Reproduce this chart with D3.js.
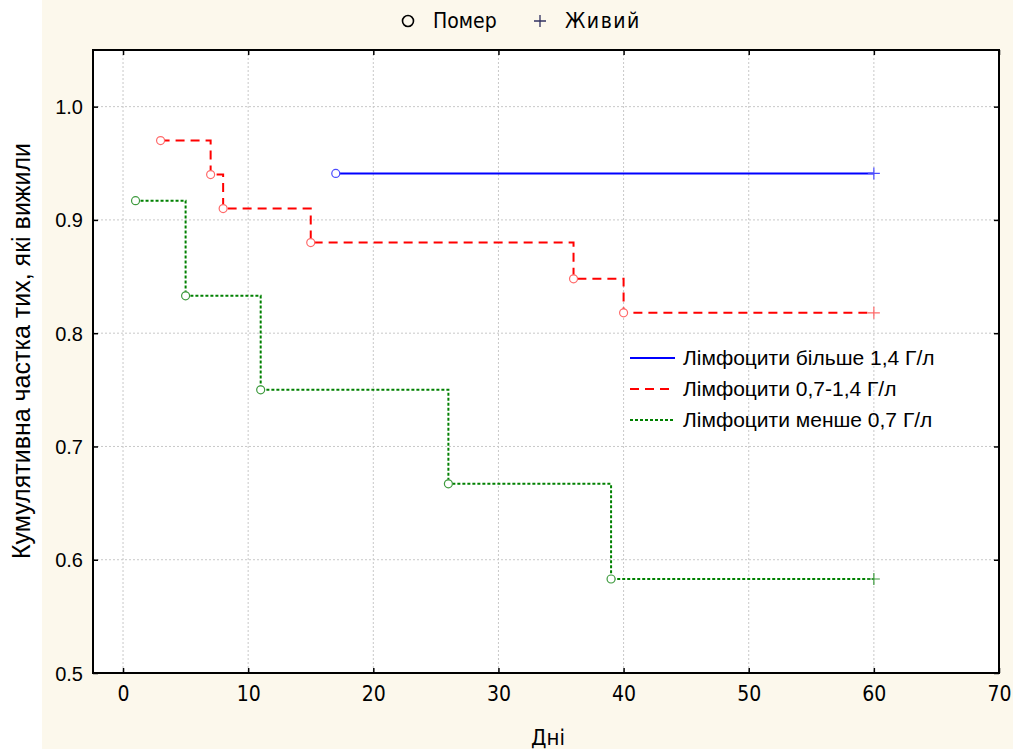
<!DOCTYPE html>
<html>
<head>
<meta charset="utf-8">
<script src="https://cdn.jsdelivr.net/npm/d3@7"></script>
<style>
  body { margin: 0; background: #fff; }
  svg { display: block; font-family: Arial, "Liberation Sans", sans-serif; }
  .narrow { font-family: "Liberation Sans Narrow", "Arial Narrow", "DejaVu Sans Condensed", sans-serif; }
</style>
</head>
<body>
<svg id="chart"></svg>
<script>
// Kaplan-Meier steps: event days and survival after each event
const blueDays = [17];
const blueSurv = [0.941];
const redDays = [3, 7, 8, 15, 36, 40];
const redSurv = [0.970, 0.940, 0.910, 0.880, 0.848, 0.818];
const greenDays = [1, 5, 11, 26, 39];
const greenSurv = [0.917, 0.833, 0.750, 0.667, 0.583];
const censorDay = 60;

const seriesNames = ["Лімфоцити більше 1,4 Г/л", "Лімфоцити 0,7-1,4 Г/л", "Лімфоцити менше 0,7 Г/л"];
const xTicks = [0, 10, 20, 30, 40, 50, 60, 70];
const yTicks = [0.5, 0.6, 0.7, 0.8, 0.9, 1.0];

const width = 1013, height = 749;
const margin = { left: 93, right: 999, top: 50, bottom: 673 };

const svg = d3.select("#chart").attr("width", width).attr("height", height);

// cream background (left strip stays white)
svg.append("rect").attr("x", 42).attr("y", 0).attr("width", width - 42).attr("height", height).attr("fill", "#fcf8ec");

const x = d3.scaleLinear().domain([-2.4, 70]).range([margin.left, margin.right]);
const y = d3.scaleLinear().domain([0.5, 1.05]).range([margin.bottom, margin.top]);

// plot area
svg.append("rect")
    .attr("x", margin.left).attr("y", margin.top)
    .attr("width", margin.right - margin.left).attr("height", margin.bottom - margin.top)
    .attr("fill", "#fff");

// grid
svg.append("g").selectAll("line")
    .data(xTicks.filter(d => d < 70))
    .join("line")
    .attr("x1", d => x(d)).attr("x2", d => x(d))
    .attr("y1", margin.top).attr("y2", margin.bottom)
    .attr("stroke", "#c8c8c8").attr("stroke-dasharray", "2,2");
svg.append("g").selectAll("line")
    .data(yTicks.filter(d => d > 0.5))
    .join("line")
    .attr("x1", margin.left).attr("x2", margin.right)
    .attr("y1", d => y(d)).attr("y2", d => y(d))
    .attr("stroke", "#c8c8c8").attr("stroke-dasharray", "2,2");

// axes with inward ticks
const axisB = svg.append("g").attr("transform", `translate(0,${margin.bottom})`)
    .call(d3.axisBottom(x).tickValues(xTicks).tickSizeInner(-5).tickSizeOuter(0).tickPadding(13));
const axisT = svg.append("g").attr("transform", `translate(0,${margin.top})`)
    .call(d3.axisTop(x).tickValues(xTicks).tickSizeInner(-5).tickSizeOuter(0).tickFormat(""));
const axisL = svg.append("g").attr("transform", `translate(${margin.left},0)`)
    .call(d3.axisLeft(y).tickValues(yTicks).tickSizeInner(-5).tickSizeOuter(0).tickPadding(10).tickFormat(d3.format(".1f")));
const axisR = svg.append("g").attr("transform", `translate(${margin.right},0)`)
    .call(d3.axisRight(y).tickValues(yTicks).tickSizeInner(-5).tickSizeOuter(0).tickFormat(""));
[axisB, axisT, axisL, axisR].forEach(g => {
    g.select(".domain").remove();
    g.selectAll(".tick line").attr("stroke", "#000").attr("stroke-width", 1.5);
    g.selectAll("text").attr("fill", "#000").attr("font-family", null);
});
axisL.selectAll("text").attr("font-size", 20).attr("dy", "0.35em");
axisB.selectAll("text").attr("class", "narrow").attr("font-size", 21);

// frame
svg.append("rect")
    .attr("x", margin.left).attr("y", margin.top)
    .attr("width", margin.right - margin.left).attr("height", margin.bottom - margin.top)
    .attr("fill", "none").attr("stroke", "#000").attr("stroke-width", 2);

// step curves
const series = [
    { days: blueDays, surv: blueSurv, color: "#0000ff", mark: "#4b4bff", dash: null },
    { days: redDays, surv: redSurv, color: "#ff0000", mark: "#ff6a6a", dash: "9,6" },
    { days: greenDays, surv: greenSurv, color: "#008000", mark: "#3d9a3d", dash: "3,2" }
];

const line = d3.line().x(d => x(d[0])).y(d => y(d[1])).curve(d3.curveStepAfter);

series.forEach(s => {
    const pts = s.days.map((d, i) => [d, s.surv[i]]);
    pts.push([censorDay, s.surv[s.surv.length - 1]]);
    svg.append("path")
        .datum(pts)
        .attr("d", line)
        .attr("fill", "none")
        .attr("stroke", s.color)
        .attr("stroke-width", 2)
        .attr("stroke-dasharray", s.dash);
    svg.append("g").selectAll("circle")
        .data(pts.slice(0, -1))
        .join("circle")
        .attr("cx", d => x(d[0])).attr("cy", d => y(d[1]))
        .attr("r", 4)
        .attr("fill", "#fff").attr("stroke", s.mark).attr("stroke-width", 1.2);
    const c = pts[pts.length - 1];
    svg.append("path")
        .attr("d", `M${x(c[0]) - 6},${y(c[1])}H${x(c[0]) + 6}M${x(c[0])},${y(c[1]) - 6}V${y(c[1]) + 6}`)
        .attr("stroke", s.mark).attr("stroke-width", 1.2);
});

// inner legend
const leg = svg.append("g").attr("transform", "translate(630,358)");
series.forEach((s, i) => {
    const g = leg.append("g").attr("transform", `translate(0,${i * 31})`);
    g.append("line").attr("x1", 0).attr("x2", 45).attr("y1", 0).attr("y2", 0)
        .attr("stroke", s.color).attr("stroke-width", 2).attr("stroke-dasharray", s.dash);
    g.append("text").attr("x", 53).attr("y", 7).attr("font-size", 21).text(seriesNames[i]);
});

// top legend
const topLeg = svg.append("g");
topLeg.append("circle").attr("cx", 408).attr("cy", 21).attr("r", 5.5).attr("fill", "none").attr("stroke", "#000").attr("stroke-width", 1.6);
topLeg.append("text").attr("class", "narrow").attr("x", 433).attr("y", 28).attr("font-size", 21).text("Помер");
topLeg.append("path").attr("d", "M534,21H546M540,15V27").attr("stroke", "#303060").attr("stroke-width", 1.3);
topLeg.append("text").attr("class", "narrow").attr("x", 565).attr("y", 28).attr("font-size", 21)
    .attr("letter-spacing", 1.5).text("Живий");

// axis titles
svg.append("text").attr("class", "narrow").attr("x", 548).attr("y", 745).attr("text-anchor", "middle").attr("font-size", 22).text("Дні");
svg.append("text")
    .attr("transform", "translate(30,351) rotate(-90)")
    .attr("text-anchor", "middle").attr("font-size", 25)
    .text("Кумулятивна частка тих, які вижили");
</script>
</body>
</html>
